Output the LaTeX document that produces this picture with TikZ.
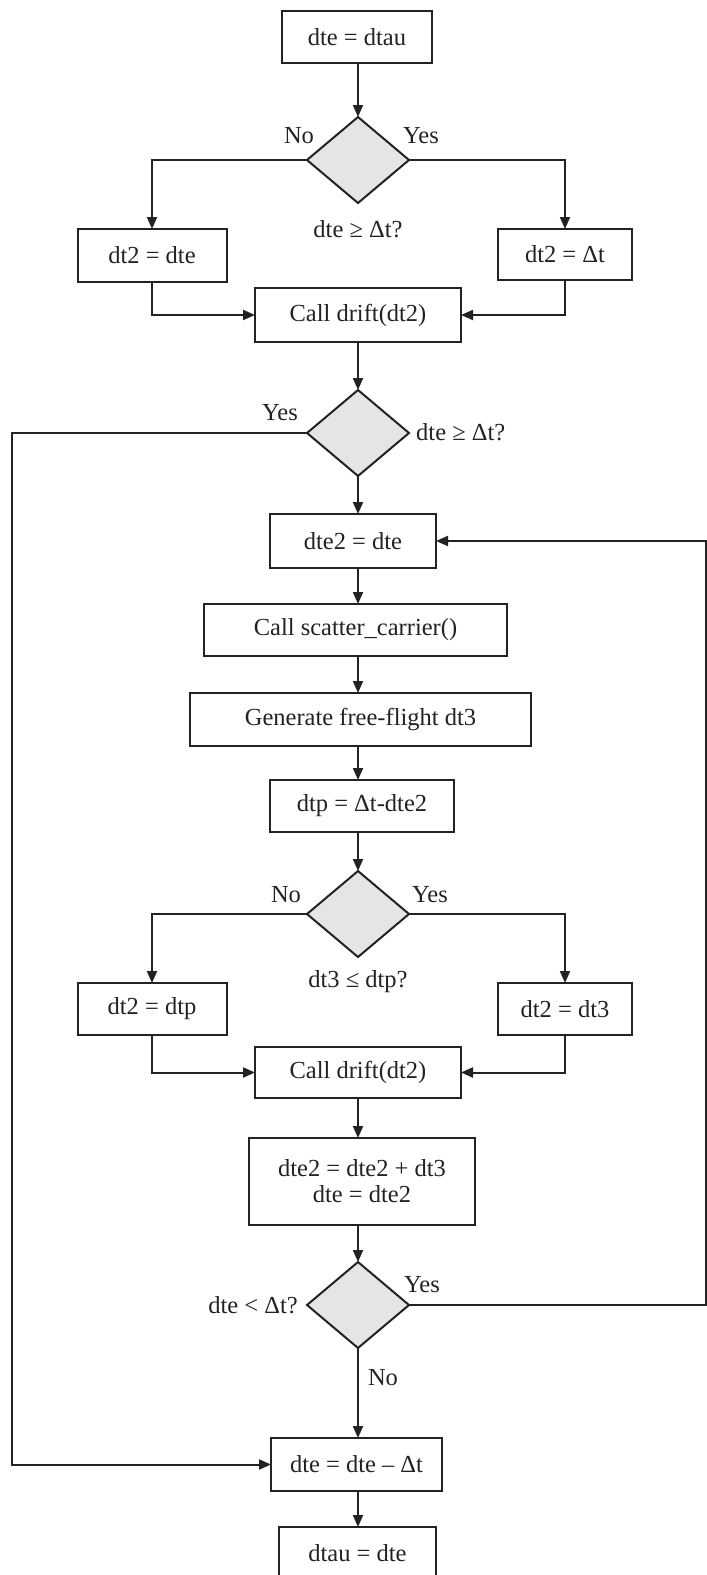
\documentclass[tikz,border=0pt]{standalone}
\usepackage{fontspec}
\setmainfont{Liberation Serif}
\usetikzlibrary{arrows.meta,shapes.geometric}
\definecolor{ink}{HTML}{222222}
\tikzset{
  txt/.style={font=\fontsize{24.5}{28}\selectfont, text=ink},
  box/.style={txt, draw=ink, line width=2pt, rectangle, inner sep=0pt, outer sep=0pt, align=center},
  dec/.style={draw=ink, line width=2pt, diamond, fill=gray!20, minimum width=102pt, minimum height=86pt, aspect=1.186, inner sep=0pt, outer sep=0pt},
  lab/.style={txt, inner sep=0pt},
  arr/.style={draw=ink, line width=2pt, -{Triangle[length=12pt,width=10pt]}},
  ln/.style={draw=ink, line width=2pt}
}
\begin{document}
\begin{tikzpicture}[x=1pt,y=-1pt]
\useasboundingbox (0,0) rectangle (707,1575);
\clip (0,0) rectangle (707,1575);
% nodes
\node[box, minimum width=150pt, minimum height=52pt] (box1) at (357,37) {dte = dtau};
\node[dec] (d1) at (358,160) {};
\node[box, minimum width=149pt, minimum height=53pt] (l1) at (152,255.5) {dt2 = dte};
\node[box, minimum width=134pt, minimum height=51pt] (r1) at (565,254.5) {dt2 = Δt};
\node[box, minimum width=206pt, minimum height=54pt] (call1) at (358,315) {Call drift(dt2)};
\node[dec] (d2) at (358,433) {};
\node[box, minimum width=166pt, minimum height=54pt] (b2) at (353,541) {dte2 = dte};
\node[box, minimum width=303pt, minimum height=52pt] (scat) at (355.5,630) {Call scatter\_carrier()};
\node[box, minimum width=341pt, minimum height=53pt] (gen) at (360.5,719.5) {Generate free-flight dt3};
\node[box, minimum width=184pt, minimum height=52pt] (dtp) at (362,806) {dtp = Δt-dte2};
\node[dec] (d3) at (358,914) {};
\node[box, minimum width=149pt, minimum height=52pt] (l2) at (152,1009) {dt2 = dtp};
\node[box, minimum width=134pt, minimum height=52pt] (r2) at (565,1009) {dt2 = dt3};
\node[box, minimum width=206pt, minimum height=51pt] (call2) at (358,1072.5) {Call drift(dt2)};
\node[box, minimum width=226pt, minimum height=87pt] (upd) at (362,1181.5) {dte2 = dte2 + dt3\\[-2pt]dte = dte2};
\node[dec] (d4) at (358,1305) {};
\node[box, minimum width=171pt, minimum height=53pt] (dmd) at (356.5,1464.5) {dte = dte – Δt};
\node[box, minimum width=157pt, minimum height=60pt] (dtau) at (357.5,1557) {};
\node[lab] (dtaut) at (357.5,1553) {dtau = dte};
% labels
\node[lab] (d1no) at (299,136) {No};
\node[lab] (d1yes) at (421,136) {Yes};
\node[lab] (d1q) at (358,229) {dte ≥ Δt?};
\node[lab] (d2yes) at (280,413) {Yes};
\node[lab, anchor=west] (d2q) at (416,432) {dte ≥ Δt?};
\node[lab] (d3no) at (286,895) {No};
\node[lab] (d3yes) at (430,895) {Yes};
\node[lab] (d3q) at (358,982) {dt3 ≤ dtp?};
\node[lab] (d4yes) at (422,1285) {Yes};
\node[lab, anchor=east] (d4q) at (298,1305) {dte < Δt?};
\node[lab] (d4no) at (383,1378) {No};
% helper coordinates
\coordinate (lft) at (12,433);
\coordinate (rgt) at (706,1305);
% connectors
\draw[arr] (box1.south -| d1.north) -- (d1.north);
\draw[arr] (d1.west) -| (l1.north);
\draw[arr] (d1.east) -| (r1.north);
\draw[arr] (l1.south) |- (call1.west);
\draw[arr] (r1.south) |- (call1.east);
\draw[arr] (call1.south) -- (d2.north);
\draw[arr] (d2.south) -- (b2.north -| d2.south);
\draw[arr] (b2.south -| d2.south) -- (scat.north -| d2.south);
\draw[arr] (scat.south -| d2.south) -- (gen.north -| d2.south);
\draw[arr] (gen.south -| d2.south) -- (dtp.north -| d2.south);
\draw[arr] (dtp.south -| d3.north) -- (d3.north);
\draw[arr] (d3.west) -| (l2.north);
\draw[arr] (d3.east) -| (r2.north);
\draw[arr] (l2.south) |- (call2.west);
\draw[arr] (r2.south) |- (call2.east);
\draw[arr] (call2.south) -- (upd.north -| call2.south);
\draw[arr] (upd.south -| d4.north) -- (d4.north);
\draw[arr] (d4.south) -- (dmd.north -| d4.south);
\draw[arr] (dmd.south -| d4.south) -- (dtau.north -| d4.south);
\draw[arr] (d2.west) -- (lft) |- (dmd.west);
\draw[arr] (d4.east) -- (rgt) |- (b2.east);
\end{tikzpicture}
\end{document}
